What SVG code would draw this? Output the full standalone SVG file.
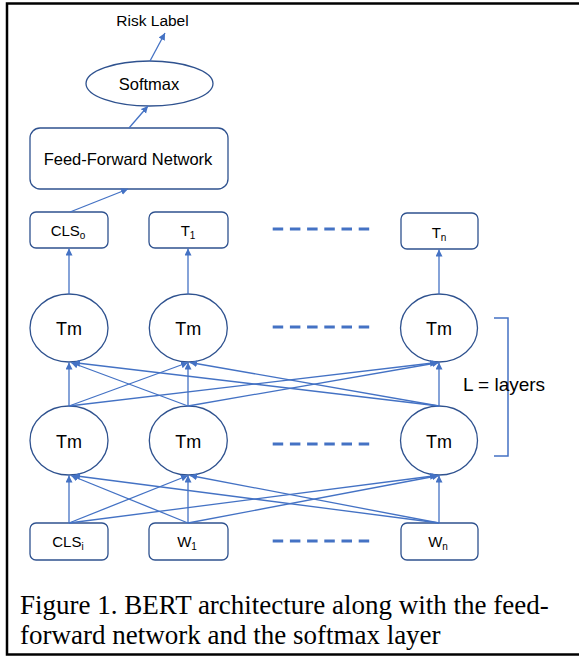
<svg xmlns="http://www.w3.org/2000/svg" width="579" height="657" viewBox="0 0 579 657">
<style>
.node{fill:#fff;stroke:#2F528F;stroke-width:1.3}
.lbl{font-family:"Liberation Sans",Arial,sans-serif;fill:#000;text-anchor:middle}
.conn line,.conn path{stroke:#4472C4;stroke-width:1.3;fill:none}
.dash{stroke:#4472C4;stroke-width:3;stroke-dasharray:10.5 6.7;fill:none}
.cap{font-family:"Liberation Serif","Times New Roman",serif;font-size:27px;fill:#000}
</style>
<defs>
<marker id="ah" markerUnits="userSpaceOnUse" markerWidth="8" markerHeight="8" refX="7" refY="3.5" orient="auto">
<path d="M0,0 L7,3.5 L0,7 z" fill="#4472C4"/>
</marker>
</defs>
<rect x="7" y="3.5" width="620" height="651" fill="#fff" stroke="#000" stroke-width="2.5"/>

<g id="risk"><text class="lbl" x="152.5" y="26" font-size="15.5">Risk Label</text></g>
<g id="softmax"><ellipse class="node" cx="149.5" cy="83.5" rx="63.5" ry="22.5"/><text class="lbl" x="149" y="89.5" font-size="16.5">Softmax</text></g>
<g id="ffn"><rect class="node" x="30" y="128" width="198" height="61" rx="10"/><text class="lbl" x="128" y="164.5" font-size="16.5">Feed-Forward Network</text></g>

<g id="clso"><rect class="node" x="30" y="212" width="78" height="36" rx="6"/><text class="lbl" x="68" y="236" font-size="15">CLS<tspan font-size="10" dy="3">o</tspan></text></g>
<g id="t1"><rect class="node" x="149" y="212" width="79" height="36" rx="6"/><text class="lbl" x="188" y="236" font-size="15">T<tspan font-size="10" dy="3">1</tspan></text></g>
<g id="tn"><rect class="node" x="401" y="213" width="77" height="36" rx="6"/><text class="lbl" x="439" y="237.5" font-size="15">T<tspan font-size="10" dy="3">n</tspan></text></g>

<g id="tm11"><ellipse class="node" cx="69" cy="328" rx="39" ry="34"/><text class="lbl" x="69" y="335" font-size="18">Tm</text></g>
<g id="tm12"><ellipse class="node" cx="188.3" cy="328" rx="39" ry="34"/><text class="lbl" x="188.3" y="335" font-size="18">Tm</text></g>
<g id="tm1n"><ellipse class="node" cx="439" cy="328" rx="38.5" ry="34"/><text class="lbl" x="439" y="335" font-size="18">Tm</text></g>
<g id="tm01"><ellipse class="node" cx="69" cy="440.5" rx="39" ry="34.5"/><text class="lbl" x="69" y="447.5" font-size="18">Tm</text></g>
<g id="tm02"><ellipse class="node" cx="188.3" cy="440.5" rx="39" ry="34.5"/><text class="lbl" x="188.3" y="447.5" font-size="18">Tm</text></g>
<g id="tm0n"><ellipse class="node" cx="439" cy="440.5" rx="38.5" ry="34.5"/><text class="lbl" x="439" y="447.5" font-size="18">Tm</text></g>

<g id="clsi"><rect class="node" x="30" y="523" width="78" height="37" rx="6"/><text class="lbl" x="68" y="547" font-size="15">CLS<tspan font-size="10" dy="3">i</tspan></text></g>
<g id="w1"><rect class="node" x="149" y="523" width="79" height="37" rx="6"/><text class="lbl" x="187" y="547" font-size="15">W<tspan font-size="10" dy="3">1</tspan></text></g>
<g id="wn"><rect class="node" x="401" y="523" width="77" height="37" rx="6"/><text class="lbl" x="438" y="547" font-size="15">W<tspan font-size="10" dy="3">n</tspan></text></g>

<g id="layers"><path d="M494,318 H508 V456 H494" fill="none" stroke="#4472C4" stroke-width="1.5"/><text class="lbl" x="504" y="391" font-size="19">L = layers</text></g>

<g class="conn" id="connectors">
<line x1="150" y1="61" x2="165" y2="33" marker-end="url(#ah)"/>
<line x1="129" y1="128" x2="148" y2="106" marker-end="url(#ah)"/>
<line x1="70" y1="212" x2="128" y2="189" marker-end="url(#ah)"/>
<line x1="69" y1="294" x2="69" y2="248.5" marker-end="url(#ah)"/>
<line x1="188" y1="294" x2="188" y2="248.5" marker-end="url(#ah)"/>
<line x1="439" y1="294" x2="439" y2="249.5" marker-end="url(#ah)"/>
<line x1="69" y1="406" x2="69" y2="362.5" marker-end="url(#ah)"/>
<line x1="69" y1="406" x2="188" y2="362.5" marker-end="url(#ah)"/>
<line x1="69" y1="406" x2="437" y2="362.5" marker-end="url(#ah)"/>
<line x1="188" y1="406" x2="71" y2="362.5" marker-end="url(#ah)"/>
<line x1="188" y1="406" x2="188" y2="362.5" marker-end="url(#ah)"/>
<line x1="188" y1="406" x2="439" y2="362.5" marker-end="url(#ah)"/>
<line x1="439" y1="406" x2="73" y2="362.5" marker-end="url(#ah)"/>
<line x1="439" y1="406" x2="190" y2="362.5" marker-end="url(#ah)"/>
<line x1="439" y1="406" x2="439" y2="362.5" marker-end="url(#ah)"/>
<line x1="69" y1="523" x2="69" y2="475.5" marker-end="url(#ah)"/>
<line x1="69" y1="523" x2="188" y2="475.5" marker-end="url(#ah)"/>
<line x1="69" y1="523" x2="437" y2="475.5" marker-end="url(#ah)"/>
<line x1="188" y1="523" x2="71" y2="475.5" marker-end="url(#ah)"/>
<line x1="188" y1="523" x2="188" y2="475.5" marker-end="url(#ah)"/>
<line x1="188" y1="523" x2="439" y2="475.5" marker-end="url(#ah)"/>
<line x1="439" y1="523" x2="73" y2="475.5" marker-end="url(#ah)"/>
<line x1="439" y1="523" x2="190" y2="475.5" marker-end="url(#ah)"/>
<line x1="439" y1="523" x2="439" y2="475.5" marker-end="url(#ah)"/>
</g>
<g id="dots">
<line class="dash" x1="272.7" y1="229" x2="369.3" y2="229"/>
<line class="dash" x1="272.7" y1="327" x2="369.3" y2="327"/>
<line class="dash" x1="272.7" y1="444" x2="369.3" y2="444"/>
<line class="dash" x1="272.7" y1="541" x2="369.3" y2="541"/>
</g>
<g id="caption">
<text class="cap" x="20" y="614">Figure 1. BERT architecture along with the feed-</text>
<text class="cap" x="20" y="644">forward network and the softmax layer</text>
</g>
</svg>
